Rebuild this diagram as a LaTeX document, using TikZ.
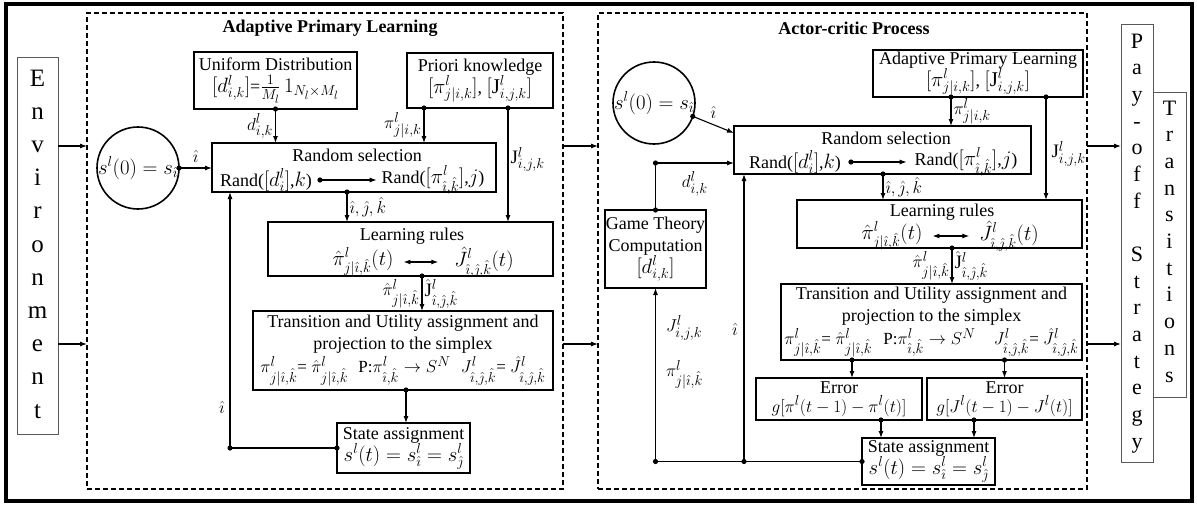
\documentclass[tikz,border=0pt]{standalone}
\usepackage{fontspec}
\setmainfont{Liberation Serif}
\usetikzlibrary{arrows.meta}

% formulas are set a little larger than the surrounding text
\DeclareMathSizes{18}{21}{15.5}{12}
\DeclareMathSizes{17}{19}{14.5}{11}
\DeclareMathSizes{16}{19}{14}{11}

\tikzset{
  every node/.style={inner sep=0pt, outer sep=0pt},
  blk/.style={draw, line width=1.6pt, align=center, font=\fontsize{18}{22}\selectfont},
  area/.style={draw, line width=1.6pt, dash pattern=on 5pt off 3pt},
  side/.style={draw=black!65, line width=0.9pt},
  conn/.style={line width=1.1pt, -{Latex[length=7pt,width=5pt]}},
  both/.style={line width=1.1pt, {Latex[length=7pt,width=5pt]}-{Latex[length=7pt,width=5pt]}},
  wire/.style={line width=1.1pt},
  lbl/.style={font=\fontsize{16}{18}\selectfont, inner sep=2.5pt},
  txt/.style={font=\fontsize{18}{22}\selectfont},
  ttl/.style={font=\fontsize{18}{22}\selectfont\bfseries},
  envch/.style={font=\fontsize{25}{25}\selectfont, text height=14pt, text depth=2pt},
  sidech/.style={font=\fontsize{22}{22}\selectfont, text height=12pt, text depth=2pt},
  ring/.style={draw, circle, line width=1.6pt, minimum size=82pt},
  ringtxt/.style={font=\fontsize{20}{22}\selectfont},
}
\newcommand\jointdot[1]{\fill #1 circle (2.6pt);}
\newcommand\projline{\fontsize{17}{22}\selectfont}

\begin{document}
\begin{tikzpicture}[x=1pt,y=-1pt]
\useasboundingbox (0,0) rectangle (1197,506);
\draw[line width=3.5pt] (6,4) rectangle (1192,501);

% rows used by the long horizontal links
\coordinate (rowA) at (0,146);
\coordinate (rowB) at (0,344);

% ---------- side columns ----------
\node[side, minimum width=41pt, minimum height=377pt] (env) at (37.5,245.5) {};
\foreach \ch [count=\i from 0] in {E,n,v,i,r,o,n,m,e,n,t}
  \node[envch] (env-\i) at (37.5,{80+33.2*\i}) {\ch};

\node[side, minimum width=33pt, minimum height=305pt] (trs) at (1169.5,244.5) {};
\foreach \ch [count=\i from 0] in {T,r,a,n,s,i,t,i,o,n,s}
  \node[sidech] (trs-\i) at (1169.5,{110+26.7*\i}) {\ch};

\node[side, fill=white, minimum width=32pt, minimum height=438pt] (pay) at (1137,243) {};
\foreach \ch [count=\i from 0] in {P,a,y,-,o,f,f,{},S,t,r,a,t,e,g,y}
  \node[sidech] (pay-\i) at (1137,{43+26.67*\i}) {\ch};

% ---------- dashed regions ----------
\node[area, minimum width=476pt, minimum height=476pt] (apl) at (325,251) {};
\node[ttl] (apl-t) at (330,28) {Adaptive Primary Learning};
\node[area, minimum width=489pt, minimum height=476pt] (acp) at (842.5,251) {};
\node[ttl] (acp-t) at (854,28) {Actor-critic Process};

\draw[conn] (env.east |- rowA) -- (apl.west |- rowA);
\draw[conn] (env.east |- rowB) -- (apl.west |- rowB);
\draw[conn] (apl.east |- rowA) -- (acp.west |- rowA);
\draw[conn] (apl.east |- rowB) -- (acp.west |- rowB);
\draw[conn] (acp.east |- rowA) -- (pay.west |- rowA);
\draw[conn] (acp.east |- rowB) -- (pay.west |- rowB);

% ---------- Adaptive Primary Learning ----------
\node[blk, minimum width=163pt, minimum height=57pt] (unif) at (275.5,80.5)
  {Uniform Distribution\\$[d^l_{i,k}]$=$\frac{1}{M_l}\,1_{N_l\times M_l}$};
\node[blk, minimum width=146pt, minimum height=55pt] (prio) at (480,80.5)
  {Priori knowledge\\$[\pi^l_{j|i,k}]$, $[\mathrm{J}^l_{i,j,k}]$};
\node[ring] (s0a) at (138,168) {};
\node[ringtxt] (s0a-t) at (138,168) {$s^l(0) = s_{\hat\imath}$};

\node[blk, minimum width=284pt, minimum height=49pt] (rand1) at (354,167.5) {};
\node[txt] (rand1-t) at (357,155) {Random selection};
\node[txt] (rand1-a) at (266,180) {Rand($[d^l_i]$,$k$)};
\node[txt] (rand1-b) at (433,180) {Rand($[\pi^l_{\hat\imath,\hat k}]$,$j$)};
\draw[conn] ([xshift=8pt]rand1-a.east) -- ([xshift=-5pt]rand1-b.west);
\jointdot{([xshift=8pt]rand1-a.east)}

\node[blk, minimum width=285pt, minimum height=54pt] (learn1) at (410.5,249) {};
\node[txt] (learn1-t) at (412,236) {Learning rules};
\node[txt] (learn1-a) at (363,262) {$\hat\pi^l_{j|\hat\imath,\hat k}(t)$};
\node[txt] (learn1-b) at (484,262) {$\hat J^l_{\hat\imath,\hat\jmath,\hat k}(t)$};
\draw[both] ([xshift=10pt]learn1-a.east) -- ([xshift=-16pt]learn1-b.west);

\node[blk, minimum width=300pt, minimum height=79pt] (trans1) at (403,350.5)
  {Transition and Utility assignment and\\projection to the simplex\\[1pt]
   {\projline $\pi^l_{j|\hat\imath,\hat k}$= $\hat\pi^l_{j|\hat\imath,\hat k}$\hspace{6pt}
   P:$\pi^l_{\hat\imath,\hat k}\rightarrow S^N$\hspace{6pt}
   $J^l_{\hat\imath,\hat\jmath,\hat k}$= $\hat J^l_{\hat\imath,\hat\jmath,\hat k}$}};

\node[blk, minimum width=133pt, minimum height=50pt] (state1) at (403.5,448)
  {State assignment\\$s^l(t) = s^l_{\hat\imath} = s^l_{\hat\jmath}$};

% links of the first region
\draw[conn] (s0a.east) -- (rand1.west |- s0a.east) node[lbl, midway, above=3pt] {$\hat\imath$};
\jointdot{(s0a.east)}
\draw[conn] (unif.south) -- (unif.south |- rand1.north) node[lbl, midway, left] {$d^l_{i,k}$};
\jointdot{(unif.south)}
\coordinate (prA) at ([xshift=-56pt]prio.south);
\coordinate (prB) at ([xshift=28pt]prio.south);
\draw[conn] (prA) -- (prA |- rand1.north) node[lbl, midway, left] {$\pi^l_{j|i,k}$};
\jointdot{(prA)}
\draw[conn] (prB) -- (prB |- learn1.north) node[lbl, pos=0.45, right] {$\mathrm{J}^l_{i,j,k}$};
\jointdot{(prB)}
\coordinate (r1s) at ([xshift=-7pt]rand1.south);
\draw[conn] (r1s) -- (r1s |- learn1.north) node[lbl, midway, right] {$\hat\imath,\hat\jmath,\hat k$};
\jointdot{(r1s)}
\coordinate (l1s) at ([xshift=11.5pt]learn1.south);
\draw[conn] (l1s) -- (l1s |- trans1.north)
  node[lbl, midway, left] {$\hat\pi^l_{j|\hat\imath,\hat k}$}
  node[lbl, midway, right] {$\hat{\mathrm{J}}^l_{\hat\imath,\hat\jmath,\hat k}$};
\jointdot{(l1s)}
\coordinate (t1s) at ([xshift=3pt]trans1.south);
\draw[conn] (t1s) -- (t1s |- state1.north);
\jointdot{(t1s)}
\coordinate (fb1) at ([xshift=18pt]rand1.south west);
\draw[conn] (state1.west) -- (fb1 |- state1.west) -- (fb1)
  node[lbl, pos=0.16, left=3pt] {$\hat\imath$};
\jointdot{(state1.west)}
\jointdot{(fb1 |- state1.west)}

% ---------- Actor-critic Process ----------
\node[blk, minimum width=210pt, minimum height=47pt] (apl2) at (978,73.5)
  {Adaptive Primary Learning\\$[\pi^l_{j|i,k}]$, $[\mathrm{J}^l_{i,j,k}]$};
\node[ring] (s0b) at (654,103) {};
\node[ringtxt] (s0b-t) at (654,103) {$s^l(0) = s_{\hat\imath}$};

\node[blk, minimum width=297pt, minimum height=48pt] (rand2) at (882.5,150) {};
\node[txt] (rand2-t) at (886,138) {Random selection};
\node[txt] (rand2-a) at (795,162) {Rand($[d^l_i]$,$k$)};
\node[txt] (rand2-b) at (966,162) {Rand($[\pi^l_{\hat\imath,\hat k}]$,$j$)};
\draw[conn] ([xshift=10pt]rand2-a.east) -- ([xshift=-8pt]rand2-b.west);
\jointdot{([xshift=10pt]rand2-a.east)}

\node[blk, minimum width=101pt, minimum height=78pt] (game) at (655.5,249)
  {Game Theory\\Computation\\$[d^l_{i,k}]$};

\node[blk, minimum width=285pt, minimum height=48pt] (learn2) at (939.5,224) {};
\node[txt] (learn2-t) at (942,212) {Learning rules};
\node[txt] (learn2-a) at (892,236) {$\hat\pi^l_{j|\hat\imath,\hat k}(t)$};
\node[txt] (learn2-b) at (1009,236) {$\hat J^l_{\hat\imath,\hat\jmath,\hat k}(t)$};
\draw[both] ([xshift=10pt]learn2-a.east) -- ([xshift=-10pt]learn2-b.west);

\node[blk, minimum width=301pt, minimum height=76pt] (trans2) at (931.5,322)
  {Transition and Utility assignment and\\projection to the simplex\\[1pt]
   {\projline $\pi^l_{j|\hat\imath,\hat k}$= $\hat\pi^l_{j|\hat\imath,\hat k}$\hspace{7pt}
   P:$\pi^l_{\hat\imath,\hat k}\rightarrow S^N$\hspace{14pt}
   $J^l_{\hat\imath,\hat\jmath,\hat k}$= $\hat J^l_{\hat\imath,\hat\jmath,\hat k}$}};

\node[blk, font=\fontsize{17}{19}\selectfont, minimum width=166pt, minimum height=42pt] (err1) at (839,399)
  {\fontsize{18}{19}\selectfont Error\\$g[\pi^l(t-1)-\pi^l(t)]$};
\node[blk, font=\fontsize{17}{19}\selectfont, minimum width=155pt, minimum height=42pt] (err2) at (1004.5,399)
  {\fontsize{18}{19}\selectfont Error\\$g[J^l(t-1)-J^l(t)]$};

\node[blk, minimum width=133pt, minimum height=47pt] (state2) at (928.5,461.5)
  {State assignment\\$s^l(t) = s^l_{\hat\imath} = s^l_{\hat\jmath}$};

% links of the second region
\coordinate (r2in) at ([yshift=-7pt]rand2.north west);
\draw[conn] (s0b.-19) -- (r2in) node[lbl, midway, above=4pt] {$\hat\imath$};
\jointdot{(s0b.-19)}
\coordinate (r2d) at ([yshift=-37pt]rand2.north west);
\draw[conn] (game.north) -- (game.north |- r2d) -- (r2d)
  node[lbl, midway, below=6pt] {$d^l_{i,k}$};
\jointdot{(game.north)}
\jointdot{(game.north |- r2d)}

\coordinate (b2a) at (game.south |- state2.west);
\coordinate (b2b) at ([xshift=10pt]rand2.south west);
\draw[wire] (state2.west) -- (b2a);
\draw[conn] (b2a) -- (game.south)
  node[lbl, pos=0.5, right=8pt] {$\pi^l_{j|\hat\imath,\hat k}$}
  node[lbl, pos=0.77, right=8pt] {$J^l_{i,j,k}$};
\draw[conn] (b2b |- state2.west) -- (b2b) node[lbl, pos=0.46, left=4pt] {$\hat\imath$};
\jointdot{(state2.west)}
\jointdot{(b2a)}
\jointdot{(b2b |- state2.west)}

\coordinate (apA) at ([xshift=-27pt]apl2.south);
\coordinate (apB) at ([xshift=68pt]apl2.south);
\draw[conn] (apA) -- (apA |- rand2.north) node[lbl, midway, right] {$\pi^l_{j|i,k}$};
\jointdot{(apA)}
\draw[conn] (apB) -- (apB |- learn2.north) node[lbl, pos=0.55, right=3pt] {$\mathrm{J}^l_{i,j,k}$};
\jointdot{(apB)}
\coordinate (r2s) at ([xshift=0.5pt]rand2.south);
\draw[conn] (r2s) -- (r2s |- learn2.north) node[lbl, midway, right] {$\hat\imath,\hat\jmath,\hat k$};
\jointdot{(r2s)}
\coordinate (l2s) at ([xshift=12.5pt]learn2.south);
\draw[conn] (l2s) -- (l2s |- trans2.north)
  node[lbl, midway, left] {$\hat\pi^l_{j|\hat\imath,\hat k}$}
  node[lbl, midway, right] {$\hat{\mathrm{J}}^l_{\hat\imath,\hat\jmath,\hat k}$};
\jointdot{(l2s)}
\coordinate (e1n) at ([xshift=13pt]err1.north);
\draw[conn] (e1n |- trans2.south) -- (e1n);
\jointdot{(e1n |- trans2.south)}
\draw[conn] (err2.north |- trans2.south) -- (err2.north);
\jointdot{(err2.north |- trans2.south)}
\coordinate (e1s) at ([xshift=42pt]err1.south);
\coordinate (e2s) at ([xshift=-30.5pt]err2.south);
\draw[conn] (e1s) -- (e1s |- state2.north);
\jointdot{(e1s)}
\draw[conn] (e2s) -- (e2s |- state2.north);
\jointdot{(e2s)}
\end{tikzpicture}
\end{document}
